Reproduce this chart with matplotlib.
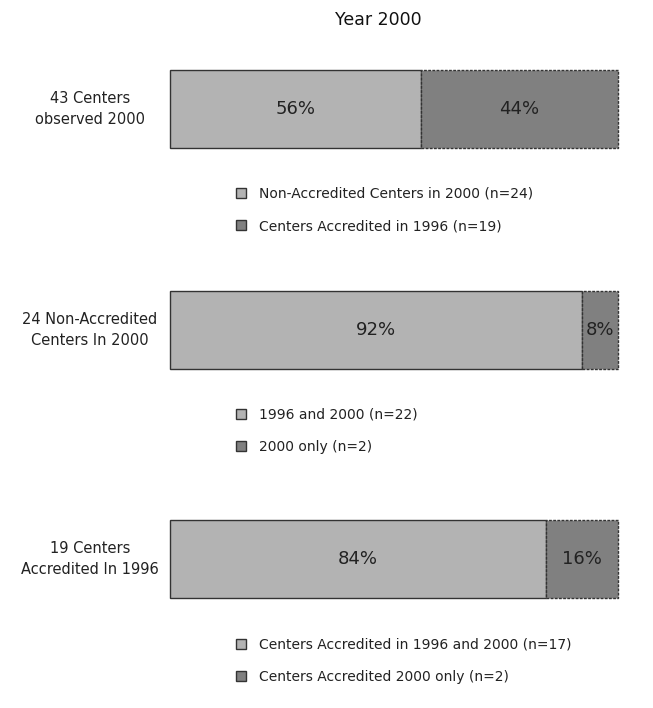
import matplotlib.pyplot as plt

plt.rcParams['font.family'] = ['DejaVu Sans']

title = "Year 2000"
group_labels = ["43 Centers\nobserved 2000",
                "24 Non-Accredited\nCenters In 2000",
                "19 Centers\nAccredited In 1996"]
first_pct = [56, 92, 84]
second_pct = [44, 8, 16]
legend_labels = [
    ["Non-Accredited Centers in 2000 (n=24)", "Centers Accredited in 1996 (n=19)"],
    ["1996 and 2000 (n=22)", "2000 only (n=2)"],
    ["Centers Accredited in 1996 and 2000 (n=17)", "Centers Accredited 2000 only (n=2)"],
]

light = '#b3b3b3'
dark = '#808080'

W, H = 653, 708
fig = plt.figure(figsize=(W / 100, H / 100), dpi=100)

# pixel boxes for each bar (top) and legend top
bar_tops = [70, 291, 520]
bar_h = 78
legend_y = [180, 401, 631]

for i in range(3):
    top = bar_tops[i]
    ax = fig.add_axes([170 / W, 1 - (top + bar_h) / H, 448 / W, bar_h / H])
    b1 = ax.barh([0], [first_pct[i]], height=1, color=light, edgecolor='#333333',
                 linewidth=1.0, label=legend_labels[i][0], clip_on=False)
    b2 = ax.barh([0], [second_pct[i]], left=[first_pct[i]], height=1, color=dark,
                 edgecolor='#333333', linewidth=1.0, linestyle=(0, (2, 1)),
                 label=legend_labels[i][1], clip_on=False)
    ax.set_xlim(0, 100)
    ax.set_ylim(-0.5, 0.5)
    ax.axis('off')
    ax.text(first_pct[i] / 2, 0, f"{first_pct[i]}%", ha='center', va='center',
            fontsize=13, color='#222222')
    ax.text(first_pct[i] + second_pct[i] / 2, 0, f"{second_pct[i]}%", ha='center',
            va='center', fontsize=13, color='#222222')
    fig.text(90 / W, 1 - (top + bar_h / 2) / H, group_labels[i], ha='center',
             va='center', fontsize=10.5, multialignment='center', color='#222222',
             linespacing=1.45)
    leg = ax.legend(handles=[b1, b2], loc='upper left',
                    bbox_to_anchor=(229 / W, 1 - legend_y[i] / H),
                    bbox_transform=fig.transFigure, frameon=False, fontsize=10,
                    handlelength=0.75, handleheight=0.75, handletextpad=0.9,
                    labelspacing=1.3, borderpad=0)
    leg.legend_handles[1].set_linestyle('-')
    for t in leg.get_texts():
        t.set_color('#222222')

fig.text(378 / W, 1 - 20 / H, title, ha='center', va='center', fontsize=12.5,
         color='#111111')

fig.savefig('out.png', dpi=100, facecolor='white')
